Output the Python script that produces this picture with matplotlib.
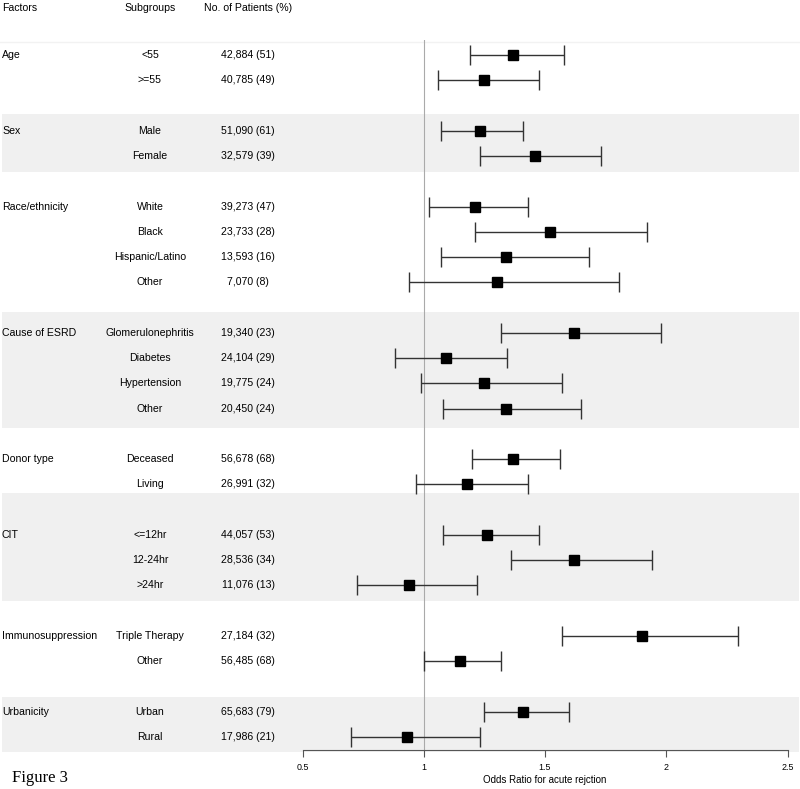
import matplotlib
matplotlib.use("Agg")
import matplotlib.pyplot as plt
import matplotlib.transforms as mtransforms
from matplotlib.patches import Rectangle

plt.rcParams['font.family'] = ['Liberation Sans', 'DejaVu Sans']

# Datos
factors = ["Age", "Sex", "Race/ethnicity", "Cause of ESRD", "Donor type",
           "CIT", "Immunosuppression", "Urbanicity"]
subgroups = [
    ["<55", ">=55"],
    ["Male", "Female"],
    ["White", "Black", "Hispanic/Latino", "Other"],
    ["Glomerulonephritis", "Diabetes", "Hypertension", "Other"],
    ["Deceased", "Living"],
    ["<=12hr", "12-24hr", ">24hr"],
    ["Triple Therapy", "Other"],
    ["Urban", "Rural"],
]
patients = [
    ["42,884 (51)", "40,785 (49)"],
    ["51,090 (61)", "32,579 (39)"],
    ["39,273 (47)", "23,733 (28)", "13,593 (16)", "7,070 (8)"],
    ["19,340 (23)", "24,104 (29)", "19,775 (24)", "20,450 (24)"],
    ["56,678 (68)", "26,991 (32)"],
    ["44,057 (53)", "28,536 (34)", "11,076 (13)"],
    ["27,184 (32)", "56,485 (68)"],
    ["65,683 (79)", "17,986 (21)"],
]
odds = [1.37, 1.25, 1.23, 1.46, 1.21, 1.52, 1.34, 1.30, 1.62, 1.09, 1.25, 1.34,
        1.37, 1.18, 1.26, 1.62, 0.94, 1.90, 1.15, 1.41, 0.93]
ci_low = [1.19, 1.06, 1.07, 1.23, 1.02, 1.21, 1.07, 0.94, 1.32, 0.88, 0.99, 1.08,
          1.20, 0.97, 1.08, 1.36, 0.725, 1.57, 1.00, 1.25, 0.70]
ci_high = [1.58, 1.475, 1.41, 1.73, 1.43, 1.92, 1.68, 1.805, 1.98, 1.345, 1.57, 1.65,
           1.56, 1.43, 1.475, 1.94, 1.22, 2.295, 1.32, 1.60, 1.23]

# posiciones de filas: una fila vacia entre grupos
rows = []
s = 0
for g in subgroups:
    rows.append(list(range(s, s + len(g))))
    s += len(g) + 1
ys = [y for r in rows for y in r]

# bandas grises (grupos alternos), limites en unidades de fila
bands = [(2.34, 4.63), (10.17, 14.77), (17.34, 21.6), (25.4, 27.6)]

fig = plt.figure(figsize=(8, 7.89), dpi=100)
ax = fig.add_axes([302.5 / 800, 39 / 789, 485 / 800, 710 / 789])
ax.patch.set_visible(False)
ax.set_xlim(0.5, 2.5)
ax.set_ylim(27.514, -0.594)

blend = mtransforms.blended_transform_factory(fig.transFigure, ax.transData)

for top, bot in bands:
    ax.add_patch(Rectangle((0.0025, top), 0.9965, bot - top, transform=blend,
                           facecolor='#f0f0f0', edgecolor='none', zorder=0, clip_on=False))
ax.plot([0, 1], [-0.51, -0.51], transform=blend, color='#f2f2f2', lw=1, clip_on=False, zorder=0)

ax.axvline(1, color='#aaaaaa', lw=0.8, zorder=1)

xerr = [[o - l for o, l in zip(odds, ci_low)], [h - o for o, h in zip(odds, ci_high)]]
ax.errorbar(odds, ys, xerr=xerr, fmt='s', color='black', markersize=7.8,
            ecolor='#333333', elinewidth=1, capsize=7.5, capthick=1, zorder=3)

# texto de la tabla
hy = -1.85
ax.text(0.0025, hy, "Factors", transform=blend, ha='left', va='center', fontsize=7.6)
ax.text(150 / 800, hy, "Subgroups", transform=blend, ha='center', va='center', fontsize=7.6)
ax.text(248 / 800, hy, "No. of Patients (%)", transform=blend, ha='center', va='center', fontsize=7.6)
for f, subs, pts, r in zip(factors, subgroups, patients, rows):
    ax.text(0.0025, r[0], f, transform=blend, ha='left', va='center', fontsize=7.6)
    for sg, p, y in zip(subs, pts, r):
        ax.text(150 / 800, y, sg, transform=blend, ha='center', va='center', fontsize=7.6)
        ax.text(248 / 800, y, p, transform=blend, ha='center', va='center', fontsize=7.6)

for sp in ['top', 'left', 'right']:
    ax.spines[sp].set_visible(False)
ax.spines['bottom'].set_color('#555555')
ax.spines['bottom'].set_linewidth(0.8)
ax.set_yticks([])
ax.set_xticks([0.5, 1, 1.5, 2, 2.5])
ax.set_xticklabels(["0.5", "1", "1.5", "2", "2.5"])
ax.tick_params(axis='x', length=5, width=0.8, color='#555555', labelsize=6.4, pad=4.5)
ax.set_xlabel("Odds Ratio for acute rejction", fontsize=7, labelpad=2)

fig.text(12 / 800, 1 - 778 / 789, "Figure 3", ha='left', va='center', fontsize=12,
         family=['Liberation Serif', 'DejaVu Serif'])

fig.savefig("out.png", dpi=100)
